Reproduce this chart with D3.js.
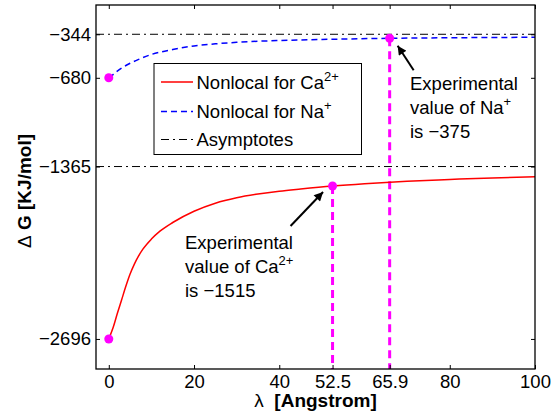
<!DOCTYPE html>
<html>
<head>
<meta charset="utf-8">
<script src="https://cdn.jsdelivr.net/npm/d3@7"></script>
<style>
  body { margin: 0; background: #fff; }
  text { font-family: Arial, "Liberation Sans", Helvetica, sans-serif; fill: #000; }
</style>
</head>
<body>
<div id="chart"></div>
<script>
// values
const lambdaCa = [0, 1, 2, 3, 4, 5, 6, 7, 8, 10, 12, 15, 20, 25, 30, 35, 40, 45, 52.5, 60, 70, 80, 90, 100];
const dgCa = [-2696, -2610, -2500, -2395, -2290, -2195, -2118, -2055, -2003, -1925, -1864, -1797, -1710, -1648, -1606, -1577, -1555, -1538, -1515, -1497, -1478, -1465, -1453, -1443];

const lambdaNa = [0, 1, 2, 3, 5, 7, 10, 15, 20, 25, 30, 40, 50, 65.9, 80, 100];
const dgNa = [-680, -655, -628, -605, -568, -538, -500, -462, -434, -418, -406, -392, -384, -375, -371, -367];

const asymptotes = [-344, -1365];
const xTicks = [0, 20, 40, 52.5, 65.9, 80, 100];
const yTicks = [-2696, -1365, -680, -344];
const startPoints = [[0, -2696], [0, -680]];
const expCa = [52.5, -1515];
const expNa = [65.9, -375];

const width = 552, height = 415;
const margin = { top: 5, right: 17, bottom: 46, left: 96 };
const fs = 18.5;

const svg = d3.select("#chart").append("svg")
  .attr("width", width)
  .attr("height", height);

const x = d3.scaleLinear()
  .domain([-3, 100])
  .range([margin.left, width - margin.right]);

const y = d3.scaleLinear()
  .domain([-2928, -118])
  .range([height - margin.bottom, margin.top]);

const minus = v => String(v).replace("-", "\u2212");

// asymptotes
svg.selectAll("line.asym")
  .data(asymptotes)
  .enter()
  .append("line")
  .attr("class", "asym")
  .attr("x1", x(-3)).attr("x2", x(100))
  .attr("y1", d => y(d)).attr("y2", d => y(d))
  .attr("stroke", "#000")
  .attr("stroke-width", 1)
  .attr("stroke-dasharray", "8,4,2,4");

// vertical markers for experimental values
svg.selectAll("line.exp")
  .data([expCa, expNa])
  .enter()
  .append("line")
  .attr("class", "exp")
  .attr("x1", d => x(d[0])).attr("x2", d => x(d[0]))
  .attr("y1", d => y(d[1])).attr("y2", y(-2928))
  .attr("stroke", "#ff00ff")
  .attr("stroke-width", 3)
  .attr("stroke-dasharray", "8,5");

const line = d3.line()
  .x(d => x(d[0]))
  .y(d => y(d[1]))
  .curve(d3.curveMonotoneX);

svg.append("path")
  .datum(lambdaCa.map((l, i) => [l, dgCa[i]]))
  .attr("d", line)
  .attr("fill", "none")
  .attr("stroke", "#ff0000")
  .attr("stroke-width", 1.5);

svg.append("path")
  .datum(lambdaNa.map((l, i) => [l, dgNa[i]]))
  .attr("d", line)
  .attr("fill", "none")
  .attr("stroke", "#0000ff")
  .attr("stroke-width", 1.5)
  .attr("stroke-dasharray", "6,4");

// dots
svg.selectAll("circle.pt")
  .data(startPoints.concat([expCa, expNa]))
  .enter()
  .append("circle")
  .attr("class", "pt")
  .attr("cx", d => x(d[0]))
  .attr("cy", d => y(d[1]))
  .attr("r", 4.5)
  .attr("fill", "#ff00ff");

// axes (inward ticks on all sides)
const tickLen = 4;
svg.append("g")
  .attr("transform", `translate(0,${height - margin.bottom})`)
  .call(d3.axisBottom(x).tickValues(xTicks).tickSize(-tickLen).tickPadding(6).tickFormat(d => d));
svg.append("g")
  .attr("transform", `translate(0,${margin.top})`)
  .call(d3.axisTop(x).tickValues(xTicks).tickSize(-tickLen).tickFormat(""));
svg.append("g")
  .attr("transform", `translate(${margin.left},0)`)
  .call(d3.axisLeft(y).tickValues(yTicks).tickSize(-tickLen).tickPadding(5).tickFormat(minus));
svg.append("g")
  .attr("transform", `translate(${width - margin.right},0)`)
  .call(d3.axisRight(y).tickValues(yTicks).tickSize(-tickLen).tickFormat(""));

svg.selectAll(".domain").remove();
svg.selectAll(".tick line").attr("stroke", "#000");
svg.selectAll(".tick text")
  .style("font-size", fs + "px")
  .style("font-family", "Arial, 'Liberation Sans', sans-serif")
  .attr("fill", "#000");

// box
svg.append("rect")
  .attr("x", margin.left).attr("y", margin.top)
  .attr("width", width - margin.left - margin.right)
  .attr("height", height - margin.top - margin.bottom)
  .attr("fill", "none")
  .attr("stroke", "#000")
  .attr("stroke-width", 1.3);

// axis labels
const xl = svg.append("text")
  .attr("x", 315.5).attr("y", 407)
  .attr("text-anchor", "middle")
  .style("font-size", "19px");
xl.append("tspan").text("\u03bb\u00a0\u00a0");
xl.append("tspan").attr("font-weight", "bold").text("[Angstrom]");

const yl = svg.append("text")
  .attr("transform", `translate(31,191) rotate(-90)`)
  .attr("text-anchor", "middle")
  .style("font-size", "19px");
yl.append("tspan").text("\u0394\u00a0");
yl.append("tspan").attr("font-weight", "bold").text("G\u00a0[KJ/mol]");

// legend
const legend = svg.append("g");
legend.append("rect")
  .attr("x", 154).attr("y", 63.5)
  .attr("width", 207.5).attr("height", 91)
  .attr("fill", "#fff")
  .attr("stroke", "#000")
  .attr("stroke-width", 1);
const legendItems = [
  { name: "Nonlocal for Ca", sup: "2+", color: "#ff0000", dash: null, cy: 82 },
  { name: "Nonlocal for Na", sup: "+", color: "#0000ff", dash: "6,4", cy: 111.5 },
  { name: "Asymptotes", sup: "", color: "#000", dash: "8,4,2,4", cy: 139.5 }
];
legendItems.forEach(d => {
  legend.append("line")
    .attr("x1", 161).attr("x2", 193)
    .attr("y1", d.cy).attr("y2", d.cy)
    .attr("stroke", d.color)
    .attr("stroke-width", d.name === "Asymptotes" ? 1 : 1.5)
    .attr("stroke-dasharray", d.dash);
  const t = legend.append("text")
    .attr("x", 196.5).attr("y", d.cy + 6.5)
    .style("font-size", fs + "px");
  t.append("tspan").text(d.name);
  if (d.sup) t.append("tspan").attr("dy", -8).style("font-size", "13px").text(d.sup);
});

// arrows
svg.append("defs").append("marker")
  .attr("id", "head")
  .attr("viewBox", "0 0 10 10")
  .attr("refX", 10).attr("refY", 5)
  .attr("markerWidth", 11).attr("markerHeight", 9)
  .attr("markerUnits", "userSpaceOnUse")
  .attr("orient", "auto")
  .append("path")
  .attr("d", "M0,0 L10,5 L0,10 Z")
  .attr("fill", "#000");

const arrows = [
  { pt: expNa, dx1: 24, dy1: 32, dx2: 8, dy2: 7.5 },
  { pt: expCa, dx1: -42, dy1: 40, dx2: -9.5, dy2: 6 }
];
arrows.forEach(a => {
  svg.append("line")
    .attr("x1", x(a.pt[0]) + a.dx1).attr("y1", y(a.pt[1]) + a.dy1)
    .attr("x2", x(a.pt[0]) + a.dx2).attr("y2", y(a.pt[1]) + a.dy2)
    .attr("stroke", "#000")
    .attr("stroke-width", 2)
    .attr("marker-end", "url(#head)");
});

// annotation texts
const notes = [
  { x0: 410, y0: 90, lines: [["Experimental", ""], ["value of Na", "+"], ["is \u2212375", ""]] },
  { x0: 185, y0: 249, lines: [["Experimental", ""], ["value of Ca", "2+"], ["is \u22121515", ""]] }
];
notes.forEach(n => {
  n.lines.forEach((l, i) => {
    const t = svg.append("text")
      .attr("x", n.x0).attr("y", n.y0 + i * 24)
      .style("font-size", fs + "px");
    t.append("tspan").text(l[0]);
    if (l[1]) t.append("tspan").attr("dy", -8).style("font-size", "13px").text(l[1]);
  });
});
</script>
</body>
</html>
